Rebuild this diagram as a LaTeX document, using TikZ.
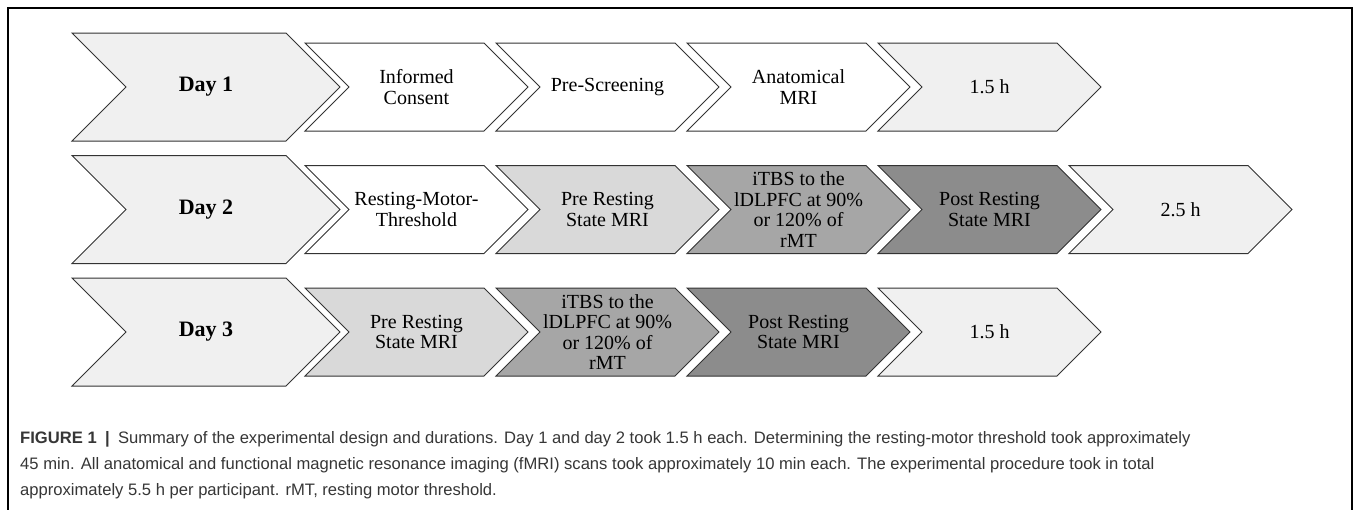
\documentclass[tikz,border=0pt]{standalone}
\usepackage{fontspec}
\setmainfont{Liberation Serif}
\setsansfont{Liberation Sans}
\usetikzlibrary{shapes.symbols,positioning}
\definecolor{daygray}{HTML}{F0F0F0}
\definecolor{pregray}{HTML}{D9D9D9}
\definecolor{itbsgray}{HTML}{A6A6A6}
\definecolor{postgray}{HTML}{8C8C8C}
\definecolor{capgray}{HTML}{363636}
\begin{document}
\begin{tikzpicture}[x=1pt,y=1pt,node distance=191pt,on grid,
	phase/.style={signal,signal from=west,signal to=east,signal pointer angle=90,draw=black!80,line width=1pt,fill=white,inner sep=0pt,minimum width=223pt,minimum height=88pt,align=center,font=\fontsize{20}{20.5}\selectfont},
	day/.style={phase,minimum width=268pt,minimum height=108pt,fill=daygray,font=\fontsize{22}{24}\selectfont\bfseries},
	total/.style={phase,fill=daygray},
	pre/.style={phase,fill=pregray},
	itbs/.style={phase,fill=itbsgray},
	post/.style={phase,fill=postgray}]
	\useasboundingbox (0,0) rectangle (1355,-509);
	\draw[line width=1.2pt] (8,-520) -- (8,-8) -- (1352,-8) -- (1352,-520);
	% day 1
	\node[day](d1) at (206,-87) {Day 1};
	\node[phase](ic)[right=210.5pt of d1] {Informed\\Consent};
	\node[phase](ps)[right=of ic] {Pre-Screening};
	\node[phase](am)[right=of ps] {Anatomical\\MRI};
	\node[total](t1)[right=of am] {1.5 h};
	% day 2
	\node[day](d2)[below=122.5pt of d1] {Day 2};
	\node[phase](rmt)[right=210.5pt of d2] {Resting-Motor-\\Threshold};
	\node[pre](pre2)[right=of rmt] {Pre Resting\\State MRI};
	\node[itbs](itbs2)[right=of pre2] {iTBS to the\\lDLPFC at 90\%\\or 120\% of\\rMT};
	\node[post](post2)[right=of itbs2] {Post Resting\\State MRI};
	\node[total](t2)[right=of post2] {2.5 h};
	% day 3
	\node[day](d3)[below=122.5pt of d2] {Day 3};
	\node[pre](pre3)[right=210.5pt of d3] {Pre Resting\\State MRI};
	\node[itbs](itbs3)[right=of pre3] {iTBS to the\\lDLPFC at 90\%\\or 120\% of\\rMT};
	\node[post](post3)[right=of itbs3] {Post Resting\\State MRI};
	\node[total](t3)[right=of post3] {1.5 h};
	% caption
	\node[anchor=north west,align=left,inner sep=0pt,text=capgray,font=\sffamily\fontsize{16.6}{26}\selectfont](cap) at (20,-431) {\textbf{FIGURE 1}\enspace\textbf{|}\enspace Summary of the experimental design and durations. Day 1 and day 2 took 1.5 h each. Determining the resting-motor threshold took approximately\\45 min. All anatomical and functional magnetic resonance imaging (fMRI) scans took approximately 10 min each. The experimental procedure took in total\\approximately 5.5 h per participant. rMT, resting motor threshold.};
\end{tikzpicture}
\end{document}
